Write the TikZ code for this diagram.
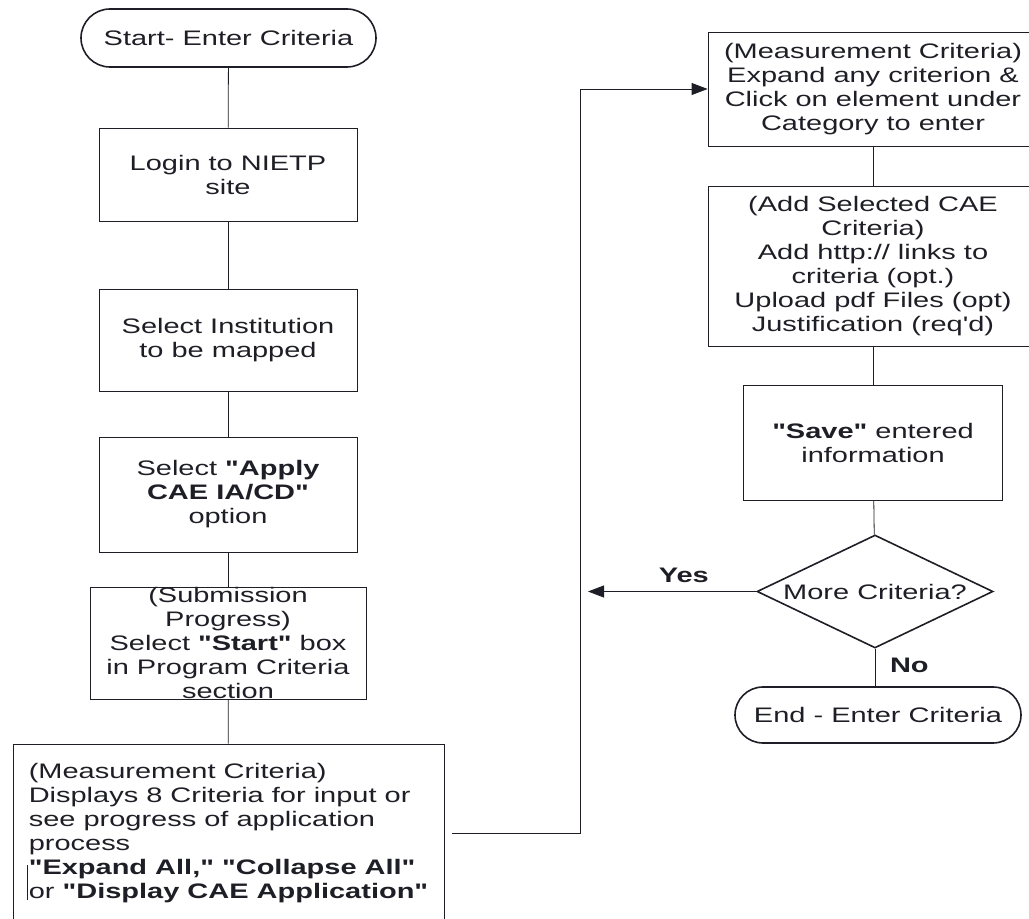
\documentclass[tikz,border=0pt]{standalone}
\usepackage{fontspec}
\setmainfont{Liberation Sans}[FakeStretch=1.38,Ligatures=TeXOff]
\usetikzlibrary{arrows.meta,shapes.geometric,shapes.misc}
\definecolor{ink}{HTML}{1E1E26}
\tikzset{>={Triangle[length=8pt,width=6pt]},line width=1.1pt,
  every node/.style={font=\fontsize{10.5}{12}\selectfont,text=ink},
  stepbox/.style={draw=ink,rectangle,align=center,inner sep=0pt},
  terminal/.style={draw=ink,rounded rectangle,line width=.8pt,inner sep=0pt},
  decision/.style={draw=ink,diamond,aspect=2,line width=.8pt,inner sep=0pt},
  link/.style={draw=ink},
  answer/.style={font=\fontsize{10.5}{12}\selectfont\bfseries}}

\begin{document}
\begin{tikzpicture}[x=.5pt,y=-.5pt]
\useasboundingbox (0,0) rectangle (1029,919);
% left column
\node[terminal,minimum width=147.5pt,minimum height=29pt] (start) at (228.5,38) {Start- Enter Criteria};
\node[stepbox,minimum width=129pt,minimum height=46.5pt] (login) at (228,174.5) {Login to NIETP\\site};
\node[stepbox,minimum width=129pt,minimum height=51pt] (inst) at (228,340) {Select Institution\\to be mapped};
\node[stepbox,minimum width=129pt,minimum height=57.5pt] (apply) at (228,494.5) {Select \textbf{"Apply}\\\textbf{CAE IA/CD"}\\option};
\node[stepbox,minimum width=138pt,minimum height=56pt,inner ysep=-4pt] (submit) at (228,643) {(Submission\\Progress)\\Select \textbf{"Start"} box\\in Program Criteria\\section};
\node[stepbox,align=left,minimum width=215.5pt,minimum height=89pt] (measure) at (228.5,833) {(Measurement Criteria)\\Displays 8 Criteria for input or\\see progress of application\\process\\\textbf{"Expand All," "Collapse All"}\\or \textbf{"Display CAE Application"}};
% right column
\node[stepbox,minimum width=165pt,minimum height=57pt] (expand) at (873,89) {(Measurement Criteria)\\Expand any criterion \&\\Click on element under\\Category to enter};
\node[stepbox,minimum width=165pt,minimum height=80pt] (attach) at (873,266) {(Add Selected CAE\\Criteria)\\Add http:// links to\\criteria (opt.)\\Upload pdf Files (opt)\\Justification (req'd)};
\node[stepbox,minimum width=129.5pt,minimum height=57.5pt] (save) at (873,442.5) {\textbf{"Save"} entered\\information};
\node[decision,minimum width=118pt,minimum height=56.5pt] (more) at (875,591.5) {More Criteria?};
\node[terminal,minimum width=143pt,minimum height=28pt] (finish) at (878,715) {End - Enter Criteria};
\coordinate (rail) at (580,0);
\coordinate (yestip) at (588,591.5);

\draw[link] (start) -- (login);
\draw[link] (login) -- (inst);
\draw[link] (inst) -- (apply);
\draw[link] (apply) -- (submit);
\draw[link] (submit) -- (measure);
\draw[link] (expand) -- (attach);
\draw[link] (attach) -- (save);
\draw[link] (save) -- (more);
\draw[link] (more.south) -- node[answer,right,pos=.45,xshift=4pt] {No} (more.south |- finish.north);
\draw[link,->] (more.west) -- node[answer,above,pos=.43,yshift=1pt] {Yes} (yestip);
\draw[link,->,shorten <=4pt] (measure.east) -- (measure.east -| rail) -- (rail |- expand.west) -- (expand.west);
\draw[link,line width=.6pt] ([xshift=7.5pt,yshift=-16pt]measure.west) -- ++(0,35);
\end{tikzpicture}
\end{document}
